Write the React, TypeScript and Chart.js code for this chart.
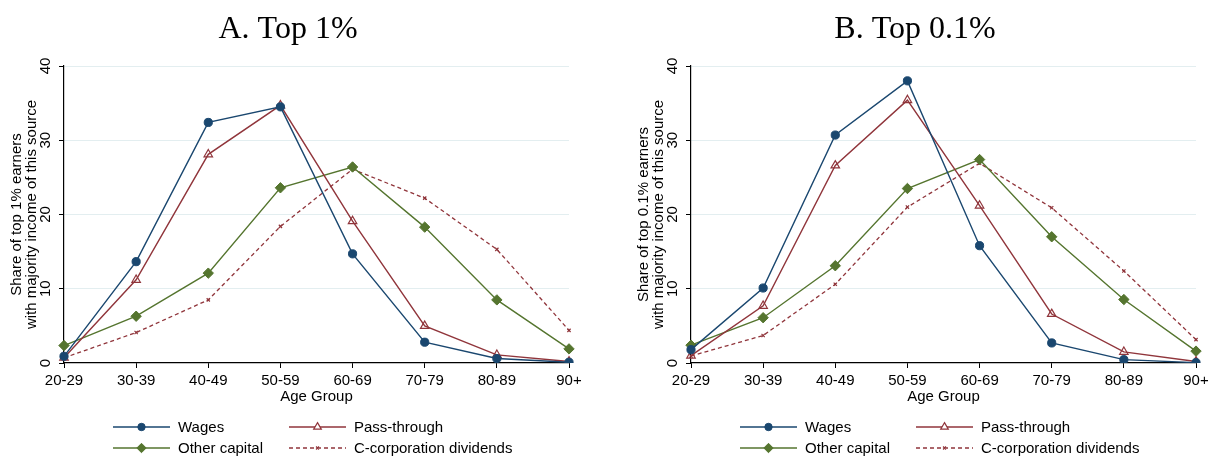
import React, { useEffect, useRef } from "react";
import { Chart, registerables } from "chart.js";
import { drawPoint } from "chart.js/helpers";

Chart.register(...registerables);

const ageGroups = ["20-29", "30-39", "40-49", "50-59", "60-69", "70-79", "80-89", "90+"];
const yTicks = [0, 10, 20, 30, 40];

const top1Wages = [0.9, 13.65, 32.4, 34.5, 14.7, 2.8, 0.6, 0.1];
const top1PassThrough = [0.7, 11.2, 28.1, 34.7, 19.1, 5.0, 1.1, 0.2];
const top1OtherCapital = [2.35, 6.3, 12.1, 23.6, 26.4, 18.3, 8.5, 1.9];
const top1CCorp = [0.7, 4.1, 8.5, 18.4, 26.1, 22.2, 15.3, 4.4];

const top01Wages = [1.8, 10.1, 30.7, 38.0, 15.8, 2.7, 0.45, 0.05];
const top01PassThrough = [1.0, 7.7, 26.6, 35.4, 21.2, 6.6, 1.5, 0.2];
const top01OtherCapital = [2.4, 6.1, 13.1, 23.5, 27.4, 17.0, 8.55, 1.6];
const top01CCorp = [0.95, 3.7, 10.6, 21.0, 26.9, 20.9, 12.4, 3.15];

const seriesNames = ["Wages", "Pass-through", "Other capital", "C-corporation dividends"];

const NAVY = "#1a476f";
const MAROON = "#90353b";
const GREEN = "#55752f";
const GRID = "#e3eef0";
const SANS = "'Liberation Sans', Arial, Helvetica, sans-serif";
const SERIF = "'Liberation Serif', 'Times New Roman', serif";

function makeDatasets(w: number[], p: number[], o: number[], c: number[]) {
  return [
    {
      label: seriesNames[0], data: w, borderColor: NAVY, backgroundColor: NAVY,
      borderWidth: 1.4, pointStyle: "circle", pointRadius: 4.1, pointBorderWidth: 1,
      pointBackgroundColor: NAVY, pointBorderColor: NAVY, tension: 0,
    },
    {
      label: seriesNames[1], data: p, borderColor: MAROON, backgroundColor: "rgba(0,0,0,0)",
      borderWidth: 1.4, pointStyle: "triangle", pointRadius: 4.9, pointBorderWidth: 1.2,
      pointBackgroundColor: "rgba(0,0,0,0)", pointBorderColor: MAROON, tension: 0,
    },
    {
      label: seriesNames[2], data: o, borderColor: GREEN, backgroundColor: GREEN,
      borderWidth: 1.4, pointStyle: "rectRot", pointRadius: 5.2, pointBorderWidth: 1,
      pointBackgroundColor: GREEN, pointBorderColor: GREEN, tension: 0,
    },
    {
      label: seriesNames[3], data: c, borderColor: MAROON, backgroundColor: MAROON,
      borderWidth: 1.3, borderDash: [4, 3], pointStyle: "crossRot", pointRadius: 2.3,
      pointBorderWidth: 1.2, pointBackgroundColor: MAROON, pointBorderColor: MAROON, tension: 0,
    },
  ];
}

const decorPlugin = {
  id: "decor",
  afterDraw(chart: any, _args: any, opts: any) {
    const { ctx, chartArea } = chart;
    ctx.save();
    // panel title
    ctx.font = `32px ${SERIF}`;
    ctx.fillStyle = "#000";
    ctx.textAlign = "center";
    ctx.textBaseline = "alphabetic";
    ctx.fillText(opts.title, chartArea.left + 224, 37.5);

    // legend (2 x 2)
    const ds = chart.data.datasets;
    const positions = [
      [0, 0], [1, 0], [0, 1], [1, 1],
    ];
    ctx.font = `15px ${SANS}`;
    ctx.textAlign = "left";
    ctx.textBaseline = "middle";
    ds.forEach((d: any, i: number) => {
      const [col, row] = positions[i];
      const x0 = chartArea.left + 49 + col * 176;
      const y = chartArea.bottom + 64 + row * 21;
      const len = 57;
      ctx.save();
      ctx.strokeStyle = d.borderColor;
      ctx.lineWidth = d.borderWidth;
      ctx.setLineDash(d.borderDash || []);
      ctx.beginPath();
      ctx.moveTo(x0, y);
      ctx.lineTo(x0 + len, y);
      ctx.stroke();
      ctx.setLineDash([]);
      ctx.fillStyle = d.pointBackgroundColor;
      ctx.strokeStyle = d.pointBorderColor;
      ctx.lineWidth = d.pointBorderWidth;
      if (d.pointStyle === "triangle") {
        ctx.fillStyle = "#fff";
      }
      drawPoint(ctx, { pointStyle: d.pointStyle, radius: d.pointRadius * 0.9, rotation: 0, borderWidth: d.pointBorderWidth }, x0 + len / 2, y);
      ctx.restore();
      ctx.fillStyle = "#000";
      ctx.fillText(d.label, x0 + len + 8, y + 1);
    });
    ctx.restore();
  },
};

function buildConfig(title: string, yTitle: string[], datasets: any[], padLeft: number, padRight: number) {
  return {
    type: "line",
    data: { labels: ageGroups, datasets },
    plugins: [decorPlugin],
    options: {
      responsive: false,
      animation: false,
      events: [],
      layout: { padding: { top: 66, left: padLeft, right: padRight, bottom: 48 } },
      plugins: {
        legend: { display: false },
        title: { display: false },
        tooltip: { enabled: false },
        decor: { title },
      },
      scales: {
        x: {
          type: "category",
          offset: false,
          grid: { display: true, drawOnChartArea: false, drawTicks: true, tickLength: 5, tickColor: "#000", tickWidth: 1 },
          border: { display: true, color: "#000", width: 1.2 },
          ticks: { color: "#000", font: { size: 15, family: SANS }, padding: 4, maxRotation: 0, minRotation: 0, autoSkip: false },
          title: { display: true, text: "Age Group", color: "#000", font: { size: 15, family: SANS, lineHeight: 1 }, padding: { top: 0, bottom: 4 } },
          afterFit: (s: any) => { s.height = 45; s.paddingLeft = 0; s.paddingRight = 0; },
        },
        y: {
          min: 0, max: 40,
          afterBuildTicks: (s: any) => { s.ticks = yTicks.map((v) => ({ value: v })); },
          grid: { color: (c: any) => (c.tick && c.tick.value === 0 ? "rgba(0,0,0,0)" : GRID), lineWidth: 1, drawTicks: true, tickLength: 5, tickColor: "#000" },
          border: { display: true, color: "#000", width: 1.2 },
          ticks: { color: "#000", font: { size: 15, family: SANS }, padding: 5, minRotation: 90, maxRotation: 90, crossAlign: "center" },
          title: { display: true, text: yTitle, color: "#000", font: { size: 15, family: SANS, lineHeight: 1 }, padding: { top: 9.5, bottom: 0 } },
          afterFit: (s: any) => { s.width = 64; s.paddingTop = 0; s.paddingBottom = 0; },
        },
      },
    },
  };
}

function Panel(props: { left: number; width: number; title: string; yTitle: string[]; data: number[][]; padLeft: number; padRight: number }) {
  const ref = useRef<HTMLCanvasElement>(null);
  useEffect(() => {
    if (!ref.current) return;
    const [w, p, o, c] = props.data;
    const chart = new Chart(ref.current, buildConfig(props.title, props.yTitle, makeDatasets(w, p, o, c), props.padLeft, props.padRight) as any);
    return () => chart.destroy();
  }, []);
  return (
    <div style={{ position: "absolute", left: props.left, top: 0, width: props.width, height: 456 }}>
      <canvas ref={ref} width={props.width} height={456} style={{ width: props.width, height: 456, display: "block" }} />
    </div>
  );
}

export default function App() {
  return (
    <div style={{ position: "fixed", left: 0, top: 0, width: 1211, height: 456, background: "#fff" }}>
      <Panel left={0} width={605} title="A. Top 1%" yTitle={["Share of top 1% earners", "with majority income of this source"]}
        data={[top1Wages, top1PassThrough, top1OtherCapital, top1CCorp]} padLeft={0} padRight={36} />
      <Panel left={605} width={606} title="B. Top 0.1%" yTitle={["Share of top 0.1% earners", "with majority income of this source"]}
        data={[top01Wages, top01PassThrough, top01OtherCapital, top01CCorp]} padLeft={22} padRight={15} />
    </div>
  );
}
